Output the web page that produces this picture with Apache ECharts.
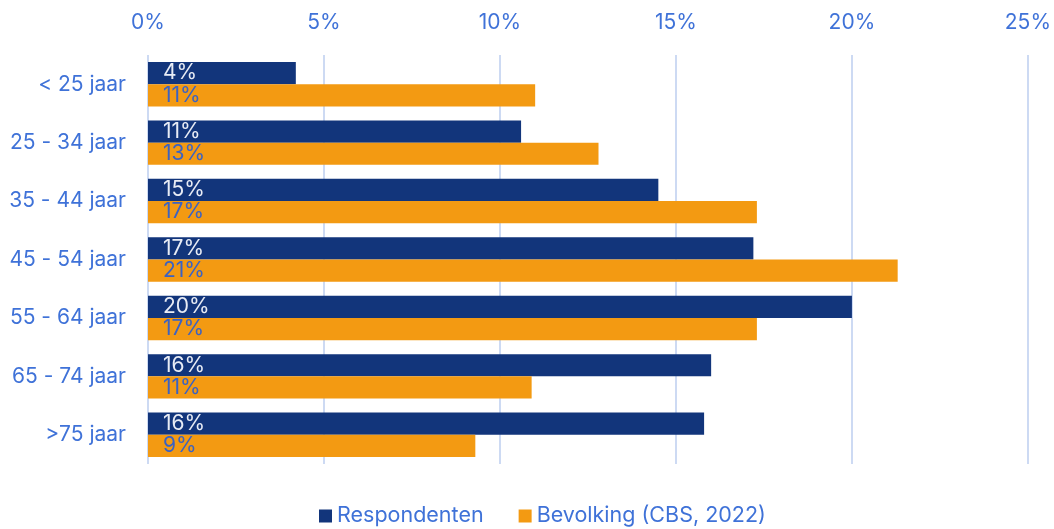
<!DOCTYPE html>
<html>
<head>
<meta charset="utf-8">
<script src="https://cdn.jsdelivr.net/npm/echarts@6/dist/echarts.min.js"></script>
<style>
  html, body { margin: 0; padding: 0; background: #fff; }
  #chart { width: 1054px; height: 529px; }
</style>
</head>
<body>
<div id="chart"></div>
<script>
var categories = ['< 25 jaar', '25 - 34 jaar', '35 - 44 jaar', '45 - 54 jaar', '55 - 64 jaar', '65 - 74 jaar', '>75 jaar'];
var respondenten = [4.2, 10.6, 14.5, 17.2, 20.0, 16.0, 15.8];
var bevolking = [11.0, 12.8, 17.3, 21.3, 17.3, 10.9, 9.3];
var seriesNames = ['Respondenten', 'Bevolking (CBS, 2022)'];

var font = 'Inter, "Open Sans", sans-serif';
var blue = '#3f72d8';

var myChart = echarts.init(document.getElementById('chart'));

function barLabel(color) {
    return {
        show: true,
        position: 'insideLeft',
        distance: 15,
        color: color,
        fontSize: 21,
        fontFamily: font,
        formatter: function (p) { return Math.round(p.value) + '%'; }
    };
}

var option = {
    animation: false,
    grid: { left: 148, right: 24, top: 55, bottom: 65 },
    legend: {
        bottom: -3,
        left: 314,
        itemWidth: 13,
        itemHeight: 13,
        itemGap: 35,
        itemTextGap: 7,
        icon: 'rect',
        textStyle: { color: blue, fontSize: 21.5, fontFamily: font },
        data: seriesNames
    },
    xAxis: {
        type: 'value',
        position: 'top',
        min: 0,
        max: 25,
        interval: 5,
        axisLine: { show: false },
        axisTick: { show: false },
        splitLine: { show: true, lineStyle: { color: '#cddaf3', width: 2 } },
        axisLabel: {
            color: blue,
            fontSize: 21,
            fontFamily: font,
            margin: 22,
            formatter: '{value}%'
        }
    },
    yAxis: {
        type: 'category',
        inverse: true,
        data: categories,
        axisLine: { show: false },
        axisTick: { show: false },
        axisLabel: { color: blue, fontSize: 21, fontFamily: font, margin: 22 }
    },
    series: [
        {
            name: seriesNames[0],
            type: 'bar',
            data: respondenten,
            barGap: '0%',
            barCategoryGap: '24%',
            itemStyle: { color: '#12357b' },
            label: barLabel('#e8ecf5')
        },
        {
            name: seriesNames[1],
            type: 'bar',
            data: bevolking,
            barGap: '0%',
            barCategoryGap: '24%',
            itemStyle: { color: '#f39a12' },
            label: barLabel('#3a62c4')
        }
    ]
};

myChart.setOption(option);
</script>
</body>
</html>
